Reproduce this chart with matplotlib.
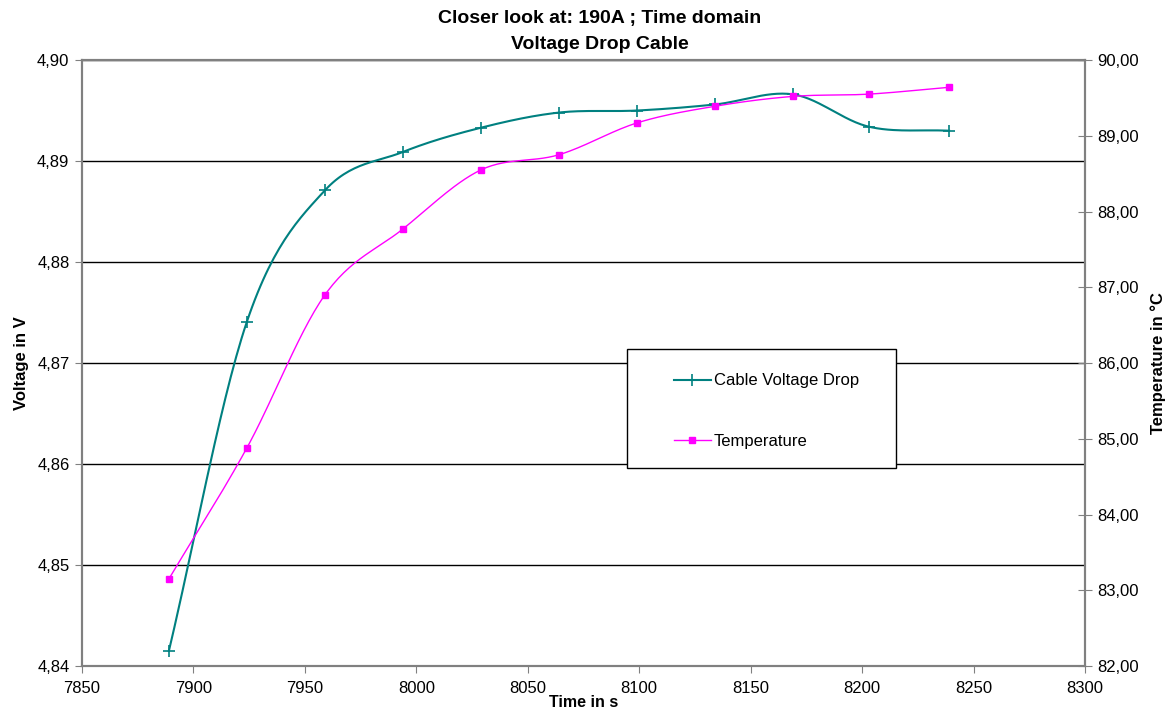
import numpy as np
import matplotlib.pyplot as plt
from matplotlib.patches import Rectangle
from matplotlib.ticker import FuncFormatter

plt.rcParams['font.family'] = ['Liberation Sans', 'DejaVu Sans']

# data
time_s = [7889, 7924, 7959, 7994, 8029, 8064, 8099, 8134, 8169, 8203, 8239]
voltage = [4.8415, 4.8741, 4.8871, 4.8909, 4.8933, 4.8948, 4.8950, 4.8956,
           4.8966, 4.8934, 4.8930]
temperature = [83.15, 84.88, 86.90, 87.77, 88.55, 88.75, 89.17, 89.39,
               89.52, 89.55, 89.64]


def smooth(x, y, n=30):
    # catmull-rom curve through the points, like the excel "smoothed line"
    x = np.asarray(x, float)
    y = np.asarray(y, float)
    px = np.concatenate([[2 * x[0] - x[1]], x, [2 * x[-1] - x[-2]]])
    py = np.concatenate([[2 * y[0] - y[1]], y, [2 * y[-1] - y[-2]]])
    t = np.linspace(0, 1, n)
    xs, ys = [], []
    for i in range(1, len(px) - 2):
        for p, out in ((px, xs), (py, ys)):
            p0, p1, p2, p3 = p[i - 1], p[i], p[i + 1], p[i + 2]
            out.append(0.5 * ((2 * p1) + (-p0 + p2) * t
                              + (2 * p0 - 5 * p1 + 4 * p2 - p3) * t ** 2
                              + (-p0 + 3 * p1 - 3 * p2 + p3) * t ** 3))
    return np.concatenate(xs), np.concatenate(ys)


teal = '#008080'
magenta = '#FF00FF'
spine_col = '#808080'

fig = plt.figure(figsize=(11.71, 7.13), dpi=100)
ax = fig.add_axes([0.070, 0.0659, 0.8566, 0.8499])
ax2 = ax.twinx()

sx, sy = smooth(time_s, voltage)
ax.plot(sx, sy, color=teal, lw=1.5, zorder=3)
ax.plot(time_s, voltage, ls='none', marker='+', ms=8, mew=1.2, color=teal, zorder=4)

tx, ty = smooth(time_s, temperature)
ax2.plot(tx, ty, color=magenta, lw=1.0, zorder=3)
ax2.plot(time_s, temperature, ls='none', marker='s', ms=4, color=magenta, zorder=4)

ax.set_xlim(7850, 8300)
ax.set_ylim(4.84, 4.90)
ax2.set_ylim(82, 90)
ax.set_xticks(np.arange(7850, 8301, 50))
ax.set_yticks(np.arange(4.84, 4.9001, 0.01))
ax2.set_yticks(np.arange(82, 90.01, 1))
ax.yaxis.set_major_formatter(FuncFormatter(lambda v, p: f'{v:.2f}'.replace('.', ',')))
ax2.yaxis.set_major_formatter(FuncFormatter(lambda v, p: f'{v:.2f}'.replace('.', ',')))

ax.grid(axis='y', color='black', lw=1.0)
ax.set_axisbelow(True)
for a in (ax, ax2):
    for s in a.spines.values():
        s.set_color(spine_col)
        s.set_linewidth(1.5)
ax.tick_params(axis='both', direction='out', length=5, color=spine_col, labelsize=12, pad=4)
ax.tick_params(axis='x', pad=6)
ax2.tick_params(axis='y', direction='inout', length=10, color=spine_col, labelsize=12, pad=4)

ax.set_xlabel('Time in s', fontsize=11.5, fontweight='bold', labelpad=-1)
ax.set_ylabel('Voltage in V', fontsize=12, fontweight='bold', labelpad=6)
ax2.set_ylabel('Temperature in °C', fontsize=12, fontweight='bold', labelpad=8)
fig.text(0.512, 0.974, 'Closer look at: 190A ; Time domain', ha='center', va='center',
         fontsize=14, fontweight='bold')
fig.text(0.512, 0.937, 'Voltage Drop Cable', ha='center', va='center',
         fontsize=14, fontweight='bold')

# legend box drawn by hand to get the Excel proportions
ax2.add_patch(Rectangle((0.543, 0.327), 0.269, 0.196, transform=ax.transAxes,
                        facecolor='white', edgecolor='black', lw=1.0, zorder=5))
h1 = plt.Line2D([], [], color=teal, lw=1.5, marker='+', ms=8, mew=1.2)
h2 = plt.Line2D([], [], color=magenta, lw=1.0, marker='s', ms=4)
leg = ax2.legend([h1, h2], ['Cable Voltage Drop', 'Temperature'],
                 loc='upper left', bbox_to_anchor=(0.582, 0.4965),
                 bbox_transform=ax.transAxes, fontsize=12, frameon=False,
                 labelspacing=2.75, handlelength=2.2, handletextpad=0.2,
                 borderpad=0.0)
leg.set_zorder(6)

fig.savefig('out.png', dpi=100)
